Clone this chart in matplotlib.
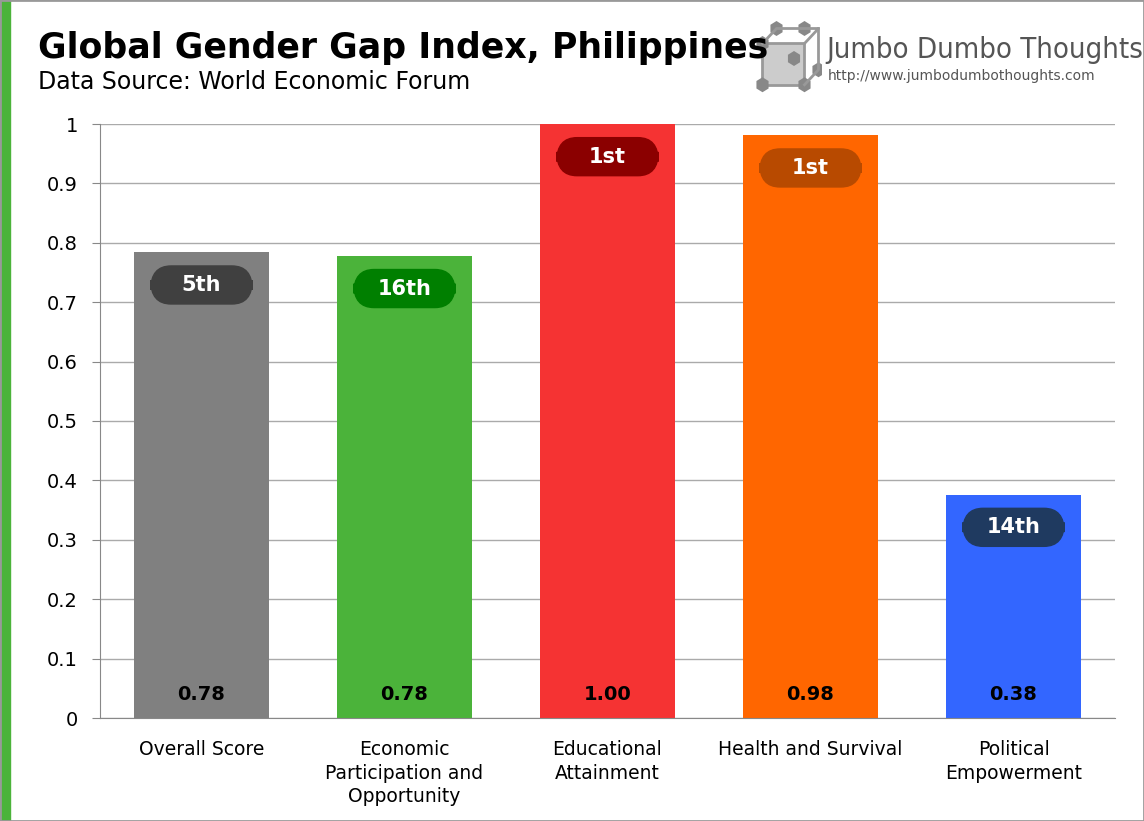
import matplotlib.pyplot as plt
from matplotlib.patches import FancyBboxPatch, Rectangle, RegularPolygon

categories = ["Overall Score", "Economic\nParticipation and\nOpportunity",
              "Educational\nAttainment", "Health and Survival", "Political\nEmpowerment"]
values = [0.784, 0.778, 1.0, 0.981, 0.376]
value_labels = ["0.78", "0.78", "1.00", "0.98", "0.38"]
ranks = ["5th", "16th", "1st", "1st", "14th"]
bar_colors = ["#808080", "#4BB33A", "#F53333", "#FF6600", "#3366FF"]
box_colors = ["#404040", "#007F00", "#8B0000", "#B84A00", "#1F3A60"]

fig = plt.figure(figsize=(11.44, 8.21), dpi=100)
ax = fig.add_axes([100 / 1144, 1 - 718 / 821, 1015 / 1144, 594 / 821])

x = range(len(categories))
ax.bar(x, values, width=0.665, color=bar_colors, zorder=2)
ax.set_xlim(-0.5, 4.5)
ax.set_ylim(0, 1)
ax.set_yticks([i / 10 for i in range(11)])
ax.set_yticklabels(["0"] + ["%.1f" % (i / 10) for i in range(1, 10)] + ["1"], fontsize=14)
ax.set_xticks(list(x))
ax.set_xticklabels(categories, fontsize=13.5, linespacing=1.3)
ax.tick_params(axis="x", length=0, pad=16)
ax.tick_params(axis="y", length=6, color="#888888", pad=10)
ax.grid(axis="y", color="#aaaaaa", linewidth=1, zorder=0)
for s in ["top", "right"]:
    ax.spines[s].set_visible(False)
ax.spines["left"].set_color("#888888")
ax.spines["bottom"].set_color("#888888")

for i, v in enumerate(values):
    ax.text(i, 0.04, value_labels[i], ha="center", va="center", fontsize=14, fontweight="bold")
    cy = v - 0.055
    ax.add_patch(FancyBboxPatch((i - 0.25, cy - 0.032), 0.5, 0.064,
                                boxstyle="round,pad=0,rounding_size=0.1",
                                mutation_aspect=0.4, color=box_colors[i], zorder=3))
    ax.text(i, cy, ranks[i], ha="center", va="center", fontsize=15,
            fontweight="bold", color="white", zorder=4)

fig.text(38 / 1144, 1 - 48 / 821, "Global Gender Gap Index, Philippines",
         fontsize=25, fontweight="bold", va="center")
fig.text(38 / 1144, 1 - 82 / 821, "Data Source: World Economic Forum",
         fontsize=17, va="center")

# logo
fig.text(826 / 1144, 1 - 50 / 821, "Jumbo Dumbo Thoughts", fontsize=21,
         color="#555555", va="center", fontstretch="condensed")
fig.text(828 / 1144, 1 - 76 / 821, "http://www.jumbodumbothoughts.com",
         fontsize=10, color="#555555", va="center")
lax = fig.add_axes([752 / 1144, 1 - 96 / 821, 70 / 1144, 75 / 821])
lax.set_xlim(0, 1); lax.set_ylim(0, 1); lax.axis("off")
lax.add_patch(Rectangle((0.15, 0.15), 0.6, 0.55, fc="#cccccc", ec="#999999", lw=2))
lax.plot([0.15, 0.35, 0.95, 0.75], [0.7, 0.9, 0.9, 0.7], color="#999999", lw=2)
lax.plot([0.95, 0.95, 0.75], [0.9, 0.35, 0.15], color="#999999", lw=2)
for px, py in [(0.15, 0.7), (0.35, 0.9), (0.75, 0.9), (0.95, 0.35), (0.15, 0.15), (0.75, 0.15), (0.6, 0.5)]:
    lax.add_patch(RegularPolygon((px, py), 6, radius=0.1, fc="#888888"))

fig.add_artist(Rectangle((0, 0), 10 / 1144, 1, transform=fig.transFigure, color="#4BB33A"))
fig.add_artist(Rectangle((0, 0), 1, 1, transform=fig.transFigure, fill=False, ec="#999999", lw=2))
fig.savefig("out.png", dpi=100)
